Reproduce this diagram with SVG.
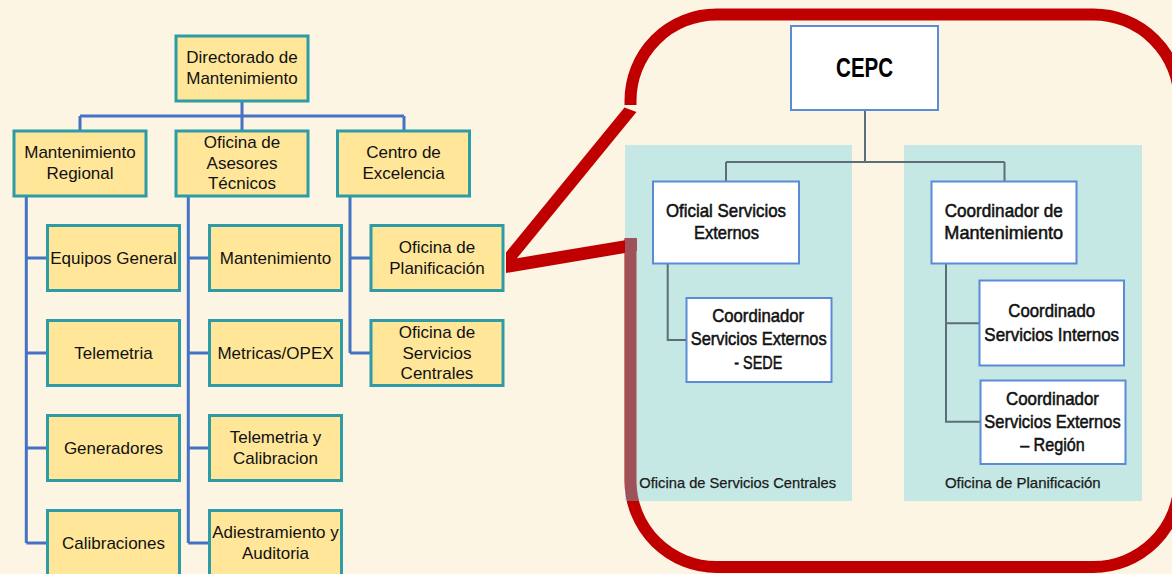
<svg xmlns="http://www.w3.org/2000/svg" width="1172" height="574" viewBox="0 0 1172 574">
<style>
.yb{fill:#FFE699;stroke:#2E9CA6;stroke-width:3}
.yt{font-family:"Liberation Sans",Arial,sans-serif;font-size:17px;fill:#111;text-anchor:middle}
.wb{fill:#FFFFFF;stroke:#5B8BD6;stroke-width:2}
.wt{font-family:"Liberation Sans",Arial,sans-serif;font-size:19px;fill:#111;stroke:#111;stroke-width:0.55;text-anchor:middle}
.pl{font-family:"Liberation Sans",Arial,sans-serif;font-size:15px;fill:#1a1a1a;stroke:#1a1a1a;stroke-width:0.25;text-anchor:middle}
.blue{fill:none;stroke:#4472C4;stroke-width:3}
.gray{fill:none;stroke:#5C6E78;stroke-width:2}
.panel{fill:rgb(109,212,232);fill-opacity:0.39}
</style>
<rect x="0" y="0" width="1172" height="574" fill="#FDF5E3"/>

<g id="callout">
<path d="M630.5,105 V100.5 A86,86 0 0 1 716.5,14.5 H1093.5 A86,86 0 0 1 1179.5,100.5 V481 A86,86 0 0 1 1093.5,567 H716.5 A86,86 0 0 1 630.5,481 V238" fill="none" stroke="#C00000" stroke-width="12"/>
<polygon points="624.5,107.5 636.5,112 506,271.6 506,252.4" fill="#C00000"/>
<polygon points="506,260 637,238.3 637,251 506,273" fill="#C00000"/>
</g>

<g id="panel-servicios-centrales">
<rect class="panel" x="625" y="145" width="227" height="356"/>
<text class="pl" x="737.7" y="488.3" textLength="196.7" lengthAdjust="spacingAndGlyphs">Oficina de Servicios Centrales</text>
</g>
<g id="panel-planificacion">
<rect class="panel" x="904" y="145" width="238" height="356"/>
<text class="pl" x="1022.8" y="488.3" textLength="155.7" lengthAdjust="spacingAndGlyphs">Oficina de Planificación</text>
</g>

<g id="connectors">
<path class="gray" d="M865,110 V162 M726,162 H1004.5 M726,162 V181 M1004.5,162 V181 M667.7,264 V340 H686 M946,264 V421.7 H980 M946,323.3 H979"/>
<path class="blue" d="M242,101 V116 M80,116 H404 M80,116 V131 M242,116 V131 M404,116 V131"/>
<path class="blue" d="M26.3,196 V543 M26.3,258 H47 M26.3,353 H47 M26.3,448 H47 M26.3,543 H47"/>
<path class="blue" d="M188.3,196 V543 M188.3,258 H209 M188.3,353 H209 M188.3,448 H209 M188.3,543 H209"/>
<path class="blue" d="M350,196 V353 M350,258 H371 M350,353 H371"/>
</g>

<g id="cepc">
<rect class="wb" x="791" y="26" width="147" height="84"/>
<text x="864.6" y="77.3" font-family="Liberation Sans, Arial, sans-serif" font-size="27" font-weight="bold" fill="#000" text-anchor="middle" textLength="57" lengthAdjust="spacingAndGlyphs">CEPC</text>
</g>
<g id="oficial-servicios-externos">
<rect class="wb" x="653" y="181.5" width="146" height="82"/>
<text class="wt" x="726" y="216.7" textLength="120" lengthAdjust="spacingAndGlyphs">Oficial Servicios</text>
<text class="wt" x="726.5" y="239.3" textLength="65" lengthAdjust="spacingAndGlyphs">Externos</text>
</g>
<g id="coordinador-mantenimiento">
<rect class="wb" x="931.5" y="181.5" width="145" height="82"/>
<text class="wt" x="1003.7" y="216.7" textLength="118" lengthAdjust="spacingAndGlyphs">Coordinador de</text>
<text class="wt" x="1003.7" y="239.3" textLength="118.7" lengthAdjust="spacingAndGlyphs">Mantenimiento</text>
</g>
<g id="coordinador-sede">
<rect class="wb" x="686.5" y="298" width="145" height="84"/>
<text class="wt" x="758.2" y="321.7" textLength="92" lengthAdjust="spacingAndGlyphs">Coordinador</text>
<text class="wt" x="758.7" y="345" textLength="136" lengthAdjust="spacingAndGlyphs">Servicios Externos</text>
<text class="wt" x="758.3" y="369.3" textLength="48" lengthAdjust="spacingAndGlyphs">- SEDE</text>
</g>
<g id="coordinado-internos">
<rect class="wb" x="979.5" y="280.5" width="144.5" height="85"/>
<text class="wt" x="1051.7" y="317.3" textLength="86.7" lengthAdjust="spacingAndGlyphs">Coordinado</text>
<text class="wt" x="1051.7" y="340.7" textLength="134.7" lengthAdjust="spacingAndGlyphs">Servicios Internos</text>
</g>
<g id="coordinador-region">
<rect class="wb" x="980.5" y="380.5" width="145" height="83.5"/>
<text class="wt" x="1052.5" y="405" textLength="93" lengthAdjust="spacingAndGlyphs">Coordinador</text>
<text class="wt" x="1052.5" y="427.7" textLength="136.3" lengthAdjust="spacingAndGlyphs">Servicios Externos</text>
<text class="wt" x="1052.5" y="450.7" textLength="64.7" lengthAdjust="spacingAndGlyphs">– Región</text>
</g>

<g id="directorado">
<rect class="yb" x="176" y="36" width="132" height="65"/>
<text class="yt" x="242" y="63">Directorado de</text>
<text class="yt" x="242" y="84">Mantenimiento</text>
</g>
<g id="mantenimiento-regional">
<rect class="yb" x="14" y="131" width="132" height="65"/>
<text class="yt" x="80" y="158">Mantenimiento</text>
<text class="yt" x="80" y="179">Regional</text>
</g>
<g id="oficina-asesores">
<rect class="yb" x="176" y="131" width="132" height="65"/>
<text class="yt" x="242" y="148">Oficina de</text>
<text class="yt" x="242" y="168.5">Asesores</text>
<text class="yt" x="242" y="189">Técnicos</text>
</g>
<g id="centro-excelencia">
<rect class="yb" x="337.5" y="131" width="132" height="65"/>
<text class="yt" x="403.5" y="158">Centro de</text>
<text class="yt" x="403.5" y="179">Excelencia</text>
</g>

<g id="equipos-general">
<rect class="yb" x="47.5" y="225.5" width="132" height="65"/>
<text class="yt" x="113.5" y="263.5">Equipos General</text>
</g>
<g id="telemetria">
<rect class="yb" x="47.5" y="320.5" width="132" height="65"/>
<text class="yt" x="113.5" y="358.5">Telemetria</text>
</g>
<g id="generadores">
<rect class="yb" x="47.5" y="415.5" width="132" height="65"/>
<text class="yt" x="113.5" y="453.5">Generadores</text>
</g>
<g id="calibraciones">
<rect class="yb" x="47.5" y="510.5" width="132" height="65"/>
<text class="yt" x="113.5" y="548.5">Calibraciones</text>
</g>

<g id="mantenimiento">
<rect class="yb" x="209.5" y="225.5" width="132" height="65"/>
<text class="yt" x="275.5" y="263.5">Mantenimiento</text>
</g>
<g id="metricas-opex">
<rect class="yb" x="209.5" y="320.5" width="132" height="65"/>
<text class="yt" x="275.5" y="358.5">Metricas/OPEX</text>
</g>
<g id="telemetria-calibracion">
<rect class="yb" x="209.5" y="415.5" width="132" height="65"/>
<text class="yt" x="275.5" y="443">Telemetria y</text>
<text class="yt" x="275.5" y="464">Calibracion</text>
</g>
<g id="adiestramiento-auditoria">
<rect class="yb" x="209.5" y="510.5" width="132" height="65"/>
<text class="yt" x="275.5" y="538">Adiestramiento y</text>
<text class="yt" x="275.5" y="559">Auditoria</text>
</g>

<g id="oficina-planificacion">
<rect class="yb" x="371" y="225.5" width="132" height="65"/>
<text class="yt" x="437" y="253">Oficina de</text>
<text class="yt" x="437" y="274">Planificación</text>
</g>
<g id="oficina-servicios-centrales">
<rect class="yb" x="371" y="320.5" width="132" height="65"/>
<text class="yt" x="437" y="338">Oficina de</text>
<text class="yt" x="437" y="358.5">Servicios</text>
<text class="yt" x="437" y="379">Centrales</text>
</g>
</svg>
